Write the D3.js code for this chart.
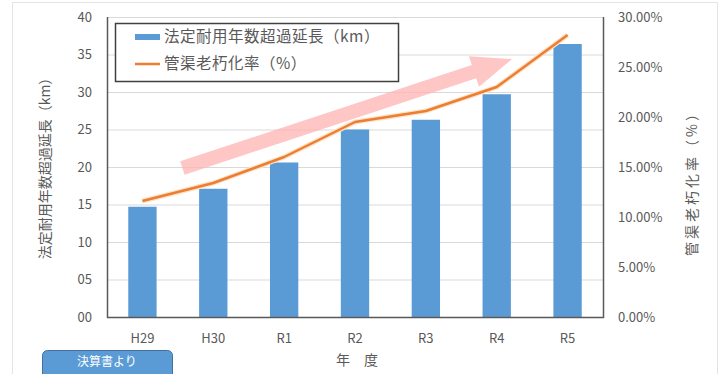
<!DOCTYPE html>
<html><head><meta charset="utf-8">
<script src="https://cdn.jsdelivr.net/npm/d3@7"></script>
<style>body{margin:0;background:#fff}svg{display:block}text{font-family:"Noto Sans CJK JP","Noto Sans",sans-serif}</style>
</head><body><svg id="c" width="726" height="374"></svg>
<script>
const categories = ["H29","H30","R1","R2","R3","R4","R5"];
const lengthKm = [14.7, 17.1, 20.6, 25.0, 26.3, 29.7, 36.4];
const agingRate = [11.6, 13.4, 16.0, 19.5, 20.6, 23.0, 28.2];
const leftTicks = [0,5,10,15,20,25,30,35,40];
const leftTickLabels = ["00","05","10","15","20","25","30","35","40"];
const rightTicks = [0,5,10,15,20,25,30];
const seriesNames = ["法定耐用年数超過延長（km）","管渠老朽化率（%）"];
const leftTitle = "法定耐用年数超過延長（km）";
const rightTitle = "管渠老朽化率（%）";
const xTitle = "年　度";
const buttonLabel = "決算書より";

const svg = d3.select("#c");
const m = {l:107, r:603, t:17, b:317};
const x = d3.scaleBand().domain(categories).range([m.l, m.r]).paddingInner(0.6).paddingOuter(0.3);
const yL = d3.scaleLinear().domain([0,40]).range([m.b, m.t]);
const yR = d3.scaleLinear().domain([0,30]).range([m.b, m.t]);
const gray = "#595959";

// outer frame
svg.append("rect").attr("x",12.5).attr("y",2.5).attr("width",705).attr("height",380)
  .attr("fill","none").attr("stroke","#e4e4e4");

// gridlines
svg.append("g").selectAll("line").data(leftTicks).join("line")
  .attr("x1",m.l).attr("x2",m.r).attr("y1",d=>yL(d)+0.5).attr("y2",d=>yL(d)+0.5)
  .attr("stroke","#d9d9d9").attr("stroke-width",1);

// bars
svg.append("g").selectAll("rect").data(lengthKm).join("rect")
  .attr("x",(d,i)=>x(categories[i])).attr("width",x.bandwidth())
  .attr("y",d=>yL(d)).attr("height",d=>yL(0)-yL(d)).attr("fill","#5b9bd5");

// arrow (pink)
const ax0 = x(categories[0]) + x.bandwidth()/2 + 40, ay0 = 168;
const ax1 = 512, ay1 = 59;
const ang = Math.atan2(ay1-ay0, ax1-ax0);
const len = Math.hypot(ax1-ax0, ay1-ay0);
const sw = 7, hw = 16, hl = 40;
const ag = svg.append("g").attr("transform",`translate(${ax0},${ay0}) rotate(${ang*180/Math.PI})`);
ag.append("path").attr("d",`M0,${-sw} L${len-hl},${-sw} L${len-hl},${-hw} L${len},0 L${len-hl},${hw} L${len-hl},${sw} L0,${sw} Z`)
  .attr("fill","#ffb3b3").attr("opacity",0.75);

// line
const line = d3.line().x((d,i)=>x(categories[i])+x.bandwidth()/2).y(d=>yR(d));
svg.append("path").datum(agingRate).attr("d",line).attr("fill","none")
  .attr("stroke","#fbe3c8").attr("stroke-width",5).attr("stroke-linejoin","round");
svg.append("path").datum(agingRate).attr("d",line).attr("fill","none")
  .attr("stroke","#ed7d31").attr("stroke-width",2.5).attr("stroke-linejoin","round");

// axes lines
svg.append("line").attr("x1",m.l+0.5).attr("x2",m.l+0.5).attr("y1",m.t).attr("y2",m.b+1).attr("stroke",gray).attr("stroke-width",1.5);
svg.append("line").attr("x1",m.r+0.5).attr("x2",m.r+0.5).attr("y1",m.t).attr("y2",m.b+1).attr("stroke",gray).attr("stroke-width",1.5);
svg.append("line").attr("x1",m.l).attr("x2",m.r+1).attr("y1",m.b+0.5).attr("y2",m.b+0.5).attr("stroke",gray).attr("stroke-width",1.5);

// left tick labels
svg.append("g").selectAll("text").data(leftTicks).join("text")
  .attr("x",92).attr("y",d=>yL(d)).attr("dy","0.35em").attr("text-anchor","end")
  .attr("font-size",13).attr("fill",gray).text((d,i)=>leftTickLabels[i]);

// right tick labels
svg.append("g").selectAll("text").data(rightTicks).join("text")
  .attr("x",618).attr("y",d=>yR(d)).attr("dy","0.35em").attr("text-anchor","start")
  .attr("font-size",13).attr("fill",gray).text(d=>d3.format(".2f")(d)+"%");

// x labels
svg.append("g").selectAll("text").data(categories).join("text")
  .attr("x",d=>x(d)+x.bandwidth()/2).attr("y",338).attr("dy","0.35em").attr("text-anchor","middle")
  .attr("font-size",13).attr("fill",gray).text(d=>d);

// axis titles
svg.append("text").attr("transform","translate(45,165) rotate(-90)").attr("text-anchor","middle")
  .attr("dy","0.35em").attr("font-size",14).attr("fill",gray).text(leftTitle);
svg.append("text").attr("transform","translate(692,180) rotate(-90)").attr("text-anchor","middle")
  .attr("dy","0.35em").attr("font-size",14).attr("letter-spacing",3).attr("fill",gray).text(rightTitle);
svg.append("text").attr("x",357).attr("y",360).attr("dy","0.35em").attr("text-anchor","middle")
  .attr("font-size",14).attr("fill",gray).text(xTitle);

// legend
const lg = svg.append("g");
lg.append("rect").attr("x",115.5).attr("y",23.5).attr("width",283).attr("height",58)
  .attr("fill","#fff").attr("stroke","#404040").attr("stroke-width",1.5);
lg.append("rect").attr("x",135).attr("y",34).attr("width",25).attr("height",6).attr("fill","#5b9bd5");
lg.append("line").attr("x1",135).attr("x2",160).attr("y1",64).attr("y2",64).attr("stroke","#ed7d31").attr("stroke-width",2.5);
lg.selectAll("text.l").data(seriesNames).join("text").attr("class","l")
  .attr("x",164).attr("y",(d,i)=>37+i*27).attr("dy","0.35em")
  .attr("font-size",15.5).attr("letter-spacing",0.5).attr("fill",gray).text(d=>d);

// button
const bg = svg.append("g");
bg.append("rect").attr("x",42.5).attr("y",350.5).attr("width",130).attr("height",30).attr("rx",5)
  .attr("fill","#5b9bd5").attr("stroke","#41719c").attr("stroke-width",1);
bg.append("text").attr("x",107).attr("y",362).attr("dy","0.35em").attr("text-anchor","middle")
  .attr("font-size",12).attr("fill","#fff").text(buttonLabel);
</script></body></html>
